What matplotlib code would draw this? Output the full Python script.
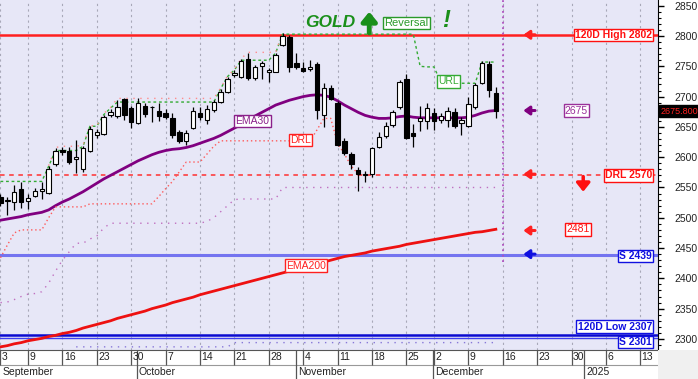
import matplotlib
matplotlib.use("Agg")
import matplotlib.pyplot as plt
from matplotlib.patches import Rectangle

plt.rcParams['font.family'] = ['Liberation Sans', 'DejaVu Sans']

# ---------------- data ----------------
opens = [2535, 2527, 2526, 2548, 2528, 2536, 2545, 2541, 2588, 2612, 2610, 2597, 2580, 2610, 2636, 2638,
         2670, 2668, 2696, 2681, 2656, 2684, 2683, 2676, 2673, 2665, 2641, 2626, 2648, 2673, 2661, 2678,
         2691, 2708, 2736, 2733, 2762, 2730, 2750, 2740, 2741, 2785, 2798, 2755, 2747, 2745, 2754, 2670,
         2714, 2690, 2627, 2605, 2579, 2571, 2572, 2617, 2635, 2653, 2683, 2729, 2640, 2659, 2660, 2673,
         2662, 2662, 2675, 2656, 2652, 2683, 2722, 2754, 2706]
highs = [2540, 2534, 2554, 2559, 2540, 2549, 2559, 2585, 2615, 2617, 2617, 2628, 2618, 2651, 2646, 2670,
         2680, 2695, 2698, 2684, 2698, 2690, 2685, 2690, 2680, 2673, 2645, 2645, 2682, 2683, 2686, 2695,
         2713, 2733, 2744, 2762, 2772, 2752, 2759, 2747, 2772, 2805, 2802, 2772, 2757, 2760, 2757, 2722,
         2719, 2692, 2632, 2609, 2584, 2577, 2617, 2642, 2658, 2678, 2727, 2738, 2655, 2684, 2690, 2681,
         2673, 2683, 2681, 2667, 2700, 2722, 2759, 2758, 2716]
lows = [2520, 2505, 2513, 2516, 2515, 2534, 2531, 2540, 2586, 2604, 2589, 2574, 2575, 2608, 2632, 2636,
        2666, 2665, 2661, 2648, 2654, 2667, 2658, 2660, 2663, 2632, 2623, 2620, 2646, 2661, 2655, 2675,
        2690, 2706, 2732, 2730, 2727, 2728, 2729, 2724, 2740, 2783, 2741, 2746, 2740, 2742, 2663, 2650,
        2694, 2618, 2603, 2580, 2545, 2559, 2568, 2615, 2632, 2650, 2680, 2630, 2617, 2643, 2647, 2645,
        2656, 2650, 2648, 2637, 2650, 2680, 2720, 2700, 2665]
closes = [2525, 2529, 2542, 2526, 2533, 2544, 2547, 2581, 2610, 2609, 2592, 2600, 2615, 2647, 2641, 2666,
          2674, 2683, 2670, 2658, 2690, 2672, 2682, 2668, 2666, 2637, 2627, 2640, 2677, 2667, 2680, 2691,
          2708, 2729, 2739, 2759, 2731, 2749, 2756, 2744, 2769, 2800, 2749, 2749, 2743, 2749, 2678, 2714,
          2696, 2620, 2607, 2589, 2573, 2573, 2615, 2634, 2652, 2675, 2724, 2632, 2635, 2664, 2681, 2660,
          2668, 2677, 2651, 2661, 2688, 2719, 2755, 2711, 2676]

ema30 = [2496, 2498, 2500, 2502, 2505, 2507, 2509, 2513, 2520, 2526, 2531, 2537, 2543, 2550, 2557, 2564,
         2570, 2576, 2582, 2588, 2594, 2599, 2604, 2608, 2611, 2613, 2614, 2616, 2619, 2623, 2627, 2631,
         2636, 2642, 2648, 2654, 2661, 2668, 2674, 2680, 2686, 2690, 2694, 2697, 2700, 2702, 2703, 2702,
         2699, 2693, 2686, 2680, 2674, 2669, 2666, 2664, 2664, 2665, 2667, 2668, 2666, 2665, 2665, 2665,
         2665, 2665, 2665, 2665, 2666, 2669, 2673, 2676, 2677]
ema200 = [2287, 2289, 2292, 2294, 2297, 2299, 2301, 2304, 2306, 2309, 2311, 2314, 2318, 2321, 2324, 2327,
          2330, 2334, 2337, 2340, 2343, 2346, 2350, 2353, 2356, 2360, 2363, 2366, 2369, 2373, 2376, 2379,
          2382, 2385, 2388, 2391, 2394, 2397, 2400, 2403, 2406, 2409, 2412, 2415, 2418, 2421, 2424, 2427,
          2430, 2433, 2436, 2438, 2440, 2442, 2445, 2447, 2449, 2451, 2453, 2456, 2458, 2460, 2462, 2464,
          2466, 2468, 2470, 2472, 2474, 2476, 2477, 2479, 2481]
url_line = [2560, 2560, 2560, 2560, 2560, 2560, 2560, 2585, 2611, 2611, 2611, 2611, 2618, 2651, 2651, 2670,
            2681, 2691, 2691, 2691, 2691, 2691, 2691, 2691, 2691, 2691, 2691, 2691, 2691, 2691, 2691, 2691,
            2713, 2733, 2744, 2760, 2760, 2760, 2760, 2760, 2772, 2803, 2803, 2803, 2803, 2803, 2803, 2803,
            2803, 2803, 2803, 2803, 2803, 2803, 2803, 2803, 2803, 2803, 2803, 2803, 2803, 2750, 2749, 2749,
            2724, 2722, 2722, 2722, 2722, 2722, 2757, 2757, 2757]
drl_line = [2434, 2455, 2475, 2480, 2480, 2480, 2480, 2500, 2518, 2518, 2518, 2518, 2518, 2523, 2523, 2523,
            2523, 2523, 2523, 2523, 2523, 2523, 2523, 2535, 2548, 2560, 2576, 2592, 2592, 2592, 2605, 2618,
            2627, 2627, 2627, 2627, 2627, 2627, 2627, 2627, 2627, 2627, 2627, 2627, 2627, 2627, 2645, 2664,
            2664, 2623, 2605, 2585, 2572, 2570]
prior_high = [None] * 7 + [2586, 2616, 2618, 2618, 2618, 2620, 2652, 2652, 2672, 2682, 2697, 2697, 2697,
              2697, 2697, 2697, 2697, 2697, 2697, 2697, 2697, 2697, 2697, 2697, 2697, 2714, 2734, 2745, 2763,
              2773, 2773, 2773, 2773, 2773, 2806]
lower_band = [2360, 2361, 2365, 2370, 2374, 2375, 2378, 2392, 2412, 2430, 2444, 2458, 2458, 2465, 2470, 2483,
              2491, 2491, 2491, 2491, 2491, 2491, 2491, 2491, 2491, 2491, 2491, 2491, 2491, 2491, 2494, 2500,
              2510, 2520, 2530, 2531, 2531, 2531, 2531, 2531, 2531, 2550, 2550, 2550, 2550, 2550, 2550, 2550,
              2550, 2550, 2550, 2550, 2550, 2550, 2550, 2550, 2550, 2550, 2550, 2550, 2550, 2550, 2550, 2550,
              2550, 2550, 2550, 2550, 2550, 2550, 2550, 2550, 2550]
bottom_band = [None] * 11 + [2287] * 23 + [2294] * 39

tick_pos = [0, 4, 9, 14, 19, 24, 29, 34, 39, 44, 49, 54, 59, 63, 68, 73, 78, 83, 88, 93]
tick_labels = ['3', '9', '16', '23', '30', '7', '14', '21', '28', '4', '11', '18', '25', '2', '9', '16',
               '23', '30', '6', '13']
month_pos = [19.85, 42.95, 62.9, 84.85]
month_labels = ['September', 'October', 'November', 'December', '2025']

high120, low120 = 2802, 2307
drl_level = 2570
support1, support2 = 2439, 2301
last_price = 2675.8

# ---------------- figure ----------------
W, H = 698, 379
fig = plt.figure(figsize=(W / 100, H / 100), dpi=100, facecolor='white')
ax = fig.add_axes([0, 29 / H, 658 / W, 350 / H])
ax.set_facecolor('#e7e7f7')
XL = (-0.07, 95.57)
ax.set_xlim(*XL)
ax.set_ylim(2281.8, 2859.4)

n = len(closes)
xs = list(range(n))

# vertical grid
for t in tick_pos:
    ax.axvline(t, color='#a8a8b8', lw=0.8, ls=(0, (2, 3)), zorder=0)

# horizontal levels
ax.axhline(high120, color='#ff2020', lw=1.8, zorder=2)
ax.axhline(drl_level, color='#ff3030', lw=1.1, ls=(0, (3, 3)), zorder=2)
ax.axhline(support1, color='#7474f0', lw=2.2, zorder=2)
ax.axhline(low120, color='#0a0ad0', lw=1.8, zorder=2)
ax.axhline(support2, color='#4040f0', lw=1.0, zorder=2)

# indicator lines
ax.plot(xs, ema200, color='#ee1111', lw=2, zorder=3)
ax.plot(xs, ema30, color='#800080', lw=2, zorder=3)
ax.plot(xs, url_line, color='#33aa33', lw=1, ls=(0, (2, 2)), zorder=3)
ax.plot(range(len(drl_line)), drl_line, color='#ff5a5a', lw=1, ls=(0, (1, 2)), zorder=3)
ax.plot(xs[:len(prior_high)], [v if v is not None else float('nan') for v in prior_high],
        color='#ff8c8c', lw=1, ls=(0, (1, 4)), zorder=3)
ax.plot(xs, lower_band, color='#c070c0', lw=1, ls=(0, (1, 4)), zorder=3)
ax.plot(xs, [v if v is not None else float('nan') for v in bottom_band],
        color='#8878d8', lw=1, ls=(0, (1, 4)), zorder=3)

# candles
for i in range(n):
    o, h, l, c = opens[i], highs[i], lows[i], closes[i]
    ax.vlines(i, l, h, color='black', lw=0.9, zorder=4)
    lo, hi = min(o, c), max(o, c)
    hgt = max(hi - lo, 1.2)
    ax.add_patch(Rectangle((i - 0.32, lo), 0.64, hgt,
                           facecolor='white' if c >= o else 'black',
                           edgecolor='black', lw=0.8, zorder=5))

# vertical purple dotted marker
ax.vlines(73, 2427, 2859.4, color='#b050c0', lw=1.3, ls=(0, (1, 2)), zorder=3)

# arrows at right side
def left_arrow(y, color):
    ax.annotate('', xy=(76.0, y), xytext=(77.7, y),
                arrowprops=dict(arrowstyle='-|>,head_length=0.35,head_width=0.25',
                                color=color, lw=2.2, shrinkA=0, shrinkB=0), zorder=6)

left_arrow(high120, '#ff2020')
left_arrow(2677, '#800080')
left_arrow(drl_level + 2, '#ff2020')
left_arrow(2479, '#ff2020')
left_arrow(support1 + 1, '#1010e0')

ax.annotate('', xy=(84.7, 2543), xytext=(84.7, 2568),
            arrowprops=dict(arrowstyle='-|>,head_length=0.5,head_width=0.4',
                            color='#ff1010', lw=2.5, shrinkA=0, shrinkB=0), zorder=6)

def box(x, y, s, color, ha='center', bold=False, fs=7.5):
    ax.text(x, y, s, color=color, ha=ha, va='center', fontsize=fs,
            fontweight='bold' if bold else 'normal', zorder=8,
            bbox=dict(boxstyle='square,pad=0.12', facecolor='white', edgecolor=color, lw=1))

box(94.7, high120, '120D High 2802', '#ff1010', ha='right', bold=True)
box(83.7, 2677, '2675', '#9a309a')
box(94.7, drl_level, 'DRL 2570', '#ff1010', ha='right', bold=True)
box(84.0, 2481, '2481', '#ff1010')
box(94.7, 2437, 'S 2439', '#1010e0', ha='right', bold=True)
box(94.7, 2320.5, '120D Low 2307', '#1010e0', ha='right', bold=True)
box(94.7, 2295, 'S 2301', '#1010e0', ha='right', bold=True)
box(36.6, 2660, 'EMA30', '#8a208a')
box(43.6, 2628, 'DRL', '#ff2020')
box(65.1, 2725, 'URL', '#33aa33')
box(44.4, 2421, 'EMA200', '#ff2020')

# title
ax.text(47.9, 2823, 'GOLD', color='#1a8f1a', fontsize=12.5, fontweight='bold', fontstyle='italic',
        ha='center', va='center', zorder=8)
ax.annotate('', xy=(53.6, 2840), xytext=(53.6, 2805),
            arrowprops=dict(arrowstyle='-|>,head_length=0.55,head_width=0.45',
                            color='#1a8f1a', lw=3.5, shrinkA=0, shrinkB=0), zorder=8)
ax.text(59.0, 2821.5, 'Reversal', color='#2a9a2a', fontsize=8, ha='center', va='center', zorder=8,
        bbox=dict(boxstyle='square,pad=0.12', facecolor='white', edgecolor='#2a9a2a', lw=1))
ax.text(64.8, 2825, '!', color='#1a8f1a', fontsize=17, fontweight='bold', fontstyle='italic',
        ha='center', va='center', zorder=8)

# axes styling
for s in ['top', 'left']:
    ax.spines[s].set_visible(False)
ax.spines['right'].set_color('black')
ax.spines['bottom'].set_color('#555555')
ax.set_xticks([])
ax.yaxis.tick_right()
ax.set_yticks(range(2300, 2851, 50))
ax.set_yticks(range(2290, 2860, 10), minor=True)
ax.tick_params(axis='y', which='major', length=4.5, width=1, labelsize=7.5, pad=7, colors='black')
ax.tick_params(axis='y', which='minor', length=2.2, width=0.8)
for lab in ax.get_yticklabels():
    lab.set_color('#222222')

# last price tag
ax.annotate(f'{last_price:.3f}', xy=(1.004, last_price), xycoords=('axes fraction', 'data'),
            ha='left', va='center', fontsize=6.5, color='#ff2020', zorder=10,
            bbox=dict(boxstyle='square,pad=0.15', facecolor='black', edgecolor='black'),
            annotation_clip=False)

# bottom date axis
axb = fig.add_axes([0, 0, 658 / W, 29 / H])
axb.set_xlim(*XL)
axb.set_ylim(0, 29)
axb.set_facecolor('white')
axb.axis('off')
axb.axhline(14.5, color='#999999', lw=0.8)
for t, lbl in zip(tick_pos, tick_labels):
    axb.vlines(t, 14.5, 29, color='#555555', lw=0.9)
    axb.text(t + 0.2, 21.5, lbl, fontsize=7.5, ha='left', va='center', color='#222222')
axb.text(0.25, 7, month_labels[0], fontsize=7.5, ha='left', va='center', color='#222222')
for p, lbl in zip(month_pos, month_labels[1:]):
    axb.vlines(p, 0, 29, color='#555555', lw=0.9)
    axb.text(p + 0.25, 7, lbl, fontsize=7.5, ha='left', va='center', color='#222222')

# bottom-right corner
fig.patches.append(Rectangle((658 / W, 0), 40 / W, 29 / H, transform=fig.transFigure,
                             facecolor='#f0f0f0', edgecolor='none', zorder=0))

fig.savefig('out.png', dpi=100, facecolor='white')
